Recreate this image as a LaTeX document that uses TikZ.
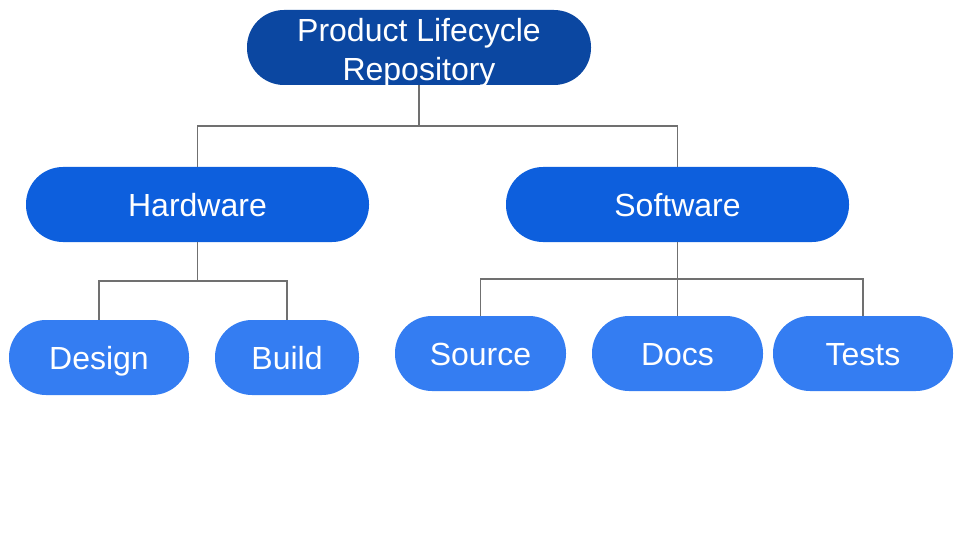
\documentclass[tikz,border=0pt]{standalone}
\usepackage{fontspec}
\setmainfont{Liberation Sans}
\begin{document}
\begin{tikzpicture}[x=1pt,y=-1pt,
  pill/.style={rectangle, rounded corners=37pt, minimum height=75pt, inner sep=0pt,
    text=white, font=\fontsize{32}{39}\selectfont, align=center},
  rootbox/.style={pill, fill=rootblue, text height=66pt, text depth=0pt},
  midbox/.style={pill, fill=midblue, text height=23pt, text depth=0pt},
  leafbox/.style={pill, fill=leafblue, text height=23pt, text depth=0pt},
  conn/.style={draw=linegray, line width=1.6pt}]
\definecolor{rootblue}{HTML}{0B47A1}
\definecolor{midblue}{HTML}{0D5FDD}
\definecolor{leafblue}{HTML}{347DF2}
\definecolor{linegray}{HTML}{707070}
\useasboundingbox (0,0) rectangle (960,540);
\node[rootbox, minimum width=344pt] (root) at (419,47.5) {Product Lifecycle\\Repository};
\node[midbox, minimum width=343pt] (hw) at (197.5,204.5) {Hardware};
\node[midbox, minimum width=343pt] (sw) at (677.5,204.5) {Software};
\node[leafbox, minimum width=180pt] (design) at (99,357.5) {Design};
\node[leafbox, minimum width=144pt] (build) at (287,357.5) {Build};
\node[leafbox, minimum width=171pt] (source) at (480.5,353.5) {Source};
\node[leafbox, minimum width=171pt] (docs) at (677.5,353.5) {Docs};
\node[leafbox, minimum width=180pt] (tests) at (863,353.5) {Tests};
\coordinate (j1) at (419,126);
\coordinate (j2) at (197.5,281);
\coordinate (j3) at (677.5,279);
\draw[conn] (root.south) -- (j1);
\draw[conn] (j1) -| (hw.north);
\draw[conn] (j1) -| (sw.north);
\draw[conn] (hw.south) -- (j2);
\draw[conn] (j2) -| (design.north);
\draw[conn] (j2) -| (build.north);
\draw[conn] (sw.south) -- (j3);
\draw[conn] (j3) -| (source.north);
\draw[conn] (j3) -- (docs.north);
\draw[conn] (j3) -| (tests.north);
\end{tikzpicture}
\end{document}
